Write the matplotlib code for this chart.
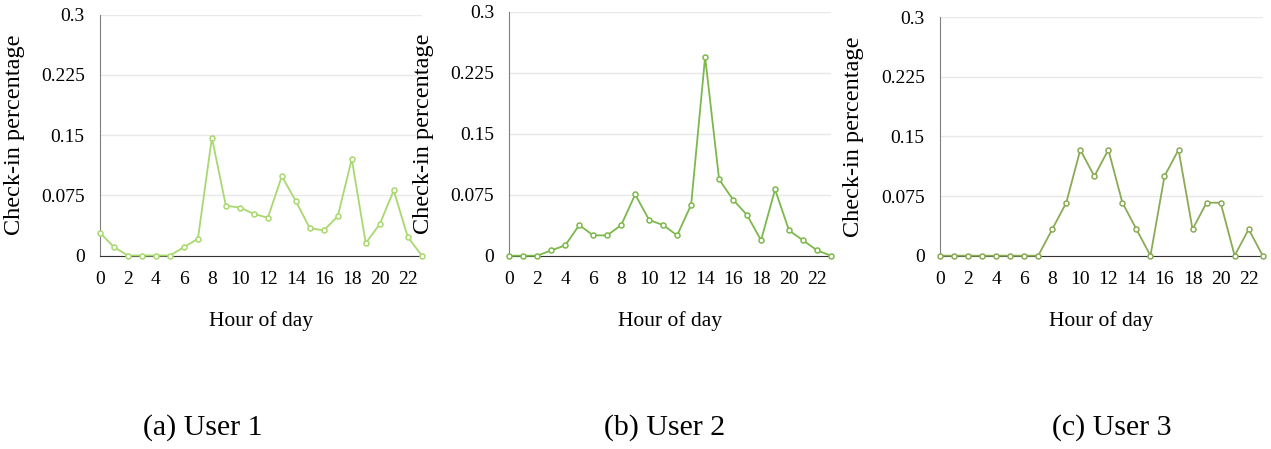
import matplotlib
matplotlib.use("Agg")
import matplotlib.pyplot as plt

plt.rcParams["font.family"] = ["Liberation Serif", "DejaVu Serif"]

HOURS = list(range(24))

USER1 = [0.0283, 0.0104, 0, 0, 0, 0, 0.0104, 0.0208, 0.1467, 0.0619, 0.0598, 0.0519,
         0.0470, 0.0989, 0.0677, 0.0341, 0.0312, 0.0490, 0.1201, 0.0154, 0.0391, 0.0810,
         0.0233, 0]
USER2 = [0, 0, 0, 0.0066, 0.0127, 0.0377, 0.0250, 0.0250, 0.0377, 0.0754, 0.0439, 0.0377,
         0.0250, 0.0627, 0.2447, 0.0939, 0.0689, 0.0500, 0.0189, 0.0816, 0.0311, 0.0189,
         0.0066, 0]
USER3 = [0, 0, 0, 0, 0, 0, 0, 0, 0.0333, 0.0667, 0.1333, 0.1000, 0.1333, 0.0667, 0.0333,
         0, 0.1000, 0.1333, 0.0333, 0.0667, 0.0667, 0, 0.0333, 0]

Y_TICKS = [0, 0.075, 0.15, 0.225, 0.3]
Y_TICKLABELS = ["0", "0.075", "0.15", "0.225", "0.3"]
X_TICKS = list(range(0, 24, 2))
CAPTIONS = ["(a) User 1", "(b) User 2", "(c) User 3"]
COLORS = ["#a9d86f", "#7db84b", "#8aab56"]

W, H = 1271, 449
# panel boxes in pixels: left, right, top, bottom
BOXES = [(100, 421.7, 14.7, 255.5), (509.3, 831, 12, 255.7), (940, 1262.7, 17.3, 255.7)]
CAPTION_X = [203, 665, 1112]

fig = plt.figure(figsize=(W / 100, H / 100), dpi=100)

for series, color, (l, r, t, b) in zip([USER1, USER2, USER3], COLORS, BOXES):
    ax = fig.add_axes([l / W, (H - b) / H, (r - l) / W, (b - t) / H])
    ax.plot(HOURS, series, color=color, lw=1.3, marker="o", ms=3.6,
            mfc="white", mec=color, mew=1.1, clip_on=False, zorder=3)
    ax.set_xlim(0, 23)
    ax.set_ylim(0, 0.3)
    ax.set_yticks(Y_TICKS)
    ax.set_yticklabels(Y_TICKLABELS)
    ax.set_xticks(X_TICKS)
    ax.tick_params(length=0, labelsize=14, pad=11)
    ax.grid(axis="y", color="#e8e8e8", lw=1)
    ax.set_axisbelow(True)
    for s in ("top", "right"):
        ax.spines[s].set_visible(False)
    ax.spines["left"].set_color("#7f7f7f")
    ax.spines["bottom"].set_color("#333333")
    ax.set_xlabel("Hour of day", fontsize=15.5, labelpad=17)
    ax.set_ylabel("Check-in percentage", fontsize=17.5)
    ax.yaxis.set_label_coords(-0.234, 0.5)

for x, cap in zip(CAPTION_X, CAPTIONS):
    fig.text(x / W, (H - 428) / H, cap, ha="center", va="center", fontsize=21.5)

fig.savefig("out.png", dpi=100)
